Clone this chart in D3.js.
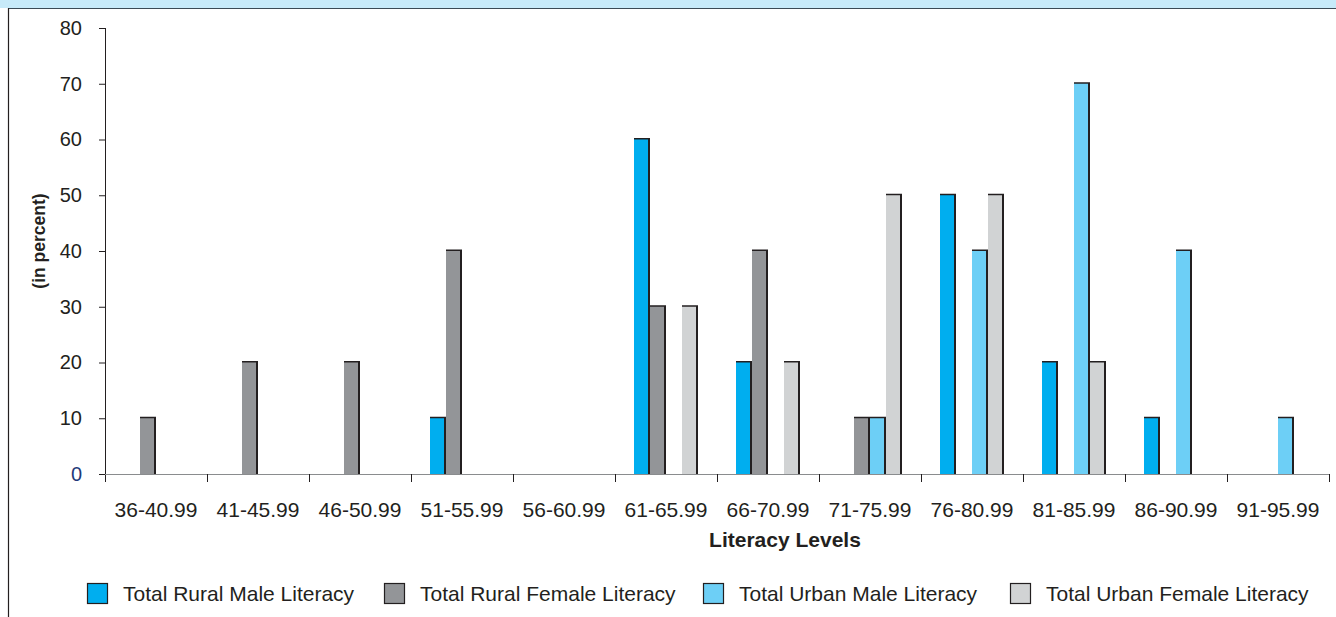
<!DOCTYPE html>
<html>
<head>
<meta charset="utf-8">
<script src="https://cdn.jsdelivr.net/npm/d3@7"></script>
<style>
  body { margin: 0; background: #fff; }
  svg text { font-family: "Liberation Sans", Arial, Helvetica, sans-serif; fill: #231f20; }
</style>
</head>
<body>
<div id="chart"></div>
<script>
// data
const categories = ['36-40.99', '41-45.99', '46-50.99', '51-55.99', '56-60.99', '61-65.99',
    '66-70.99', '71-75.99', '76-80.99', '81-85.99', '86-90.99', '91-95.99'];
const seriesNames = ['Total Rural Male Literacy', 'Total Rural Female Literacy',
    'Total Urban Male Literacy', 'Total Urban Female Literacy'];
const ruralMale   = [0, 0, 0, 10, 0, 60, 20, 0, 50, 20, 10, 0];
const ruralFemale = [10, 20, 20, 40, 0, 30, 40, 10, 0, 0, 0, 0];
const urbanMale   = [0, 0, 0, 0, 0, 0, 0, 10, 40, 70, 40, 10];
const urbanFemale = [0, 0, 0, 0, 0, 30, 20, 50, 50, 20, 0, 0];
const yTicks = [0, 10, 20, 30, 40, 50, 60, 70, 80];

const seriesValues = [ruralMale, ruralFemale, urbanMale, urbanFemale];
const colors = ['#00aeef', '#939598', '#6dcff6', '#d1d3d4'];

const width = 1336, height = 617;
const plot = { left: 105, right: 1329, top: 28, bottom: 474 };

const svg = d3.select('#chart').append('svg')
    .attr('width', width)
    .attr('height', height);

// frame: top band + left border
svg.append('rect').attr('x', 0).attr('y', 0).attr('width', width).attr('height', 8)
    .attr('fill', '#c7eaf9');
svg.append('line').attr('x1', 8).attr('x2', width).attr('y1', 8.5).attr('y2', 8.5)
    .attr('stroke', '#3b4a55').attr('stroke-width', 1.2);
svg.append('line').attr('x1', 8.5).attr('x2', 8.5).attr('y1', 8).attr('y2', height)
    .attr('stroke', '#231f20').attr('stroke-width', 1.2);

// scales
const x = d3.scaleBand().domain(categories).range([plot.left, plot.right]);
const inner = d3.scaleBand().domain(d3.range(seriesNames.length)).range([0, 64]);
const y = d3.scaleLinear().domain([0, 80]).range([plot.bottom, plot.top]);
const groupOffset = (x.bandwidth() - 64) / 2;

// y axis
const yAxis = svg.append('g')
    .attr('transform', `translate(${plot.left},0)`)
    .call(d3.axisLeft(y).tickValues(yTicks).tickSize(6).tickPadding(17));
yAxis.select('.domain').attr('d', `M0.5,${plot.top}V${plot.bottom + 8}`)
    .attr('stroke', '#231f20');
yAxis.selectAll('.tick line').attr('stroke', '#231f20');
yAxis.selectAll('.tick text')
    .style('font-size', '20px')
    .style('fill', d => d === 0 ? '#1f3a7a' : '#231f20');

// x axis (boundary ticks)
const xAxisG = svg.append('g');
xAxisG.append('line')
    .attr('x1', plot.left).attr('x2', plot.right)
    .attr('y1', plot.bottom + 0.5).attr('y2', plot.bottom + 0.5)
    .attr('stroke', '#8a8c8e').attr('stroke-width', 1.2);
xAxisG.selectAll('.xtick')
    .data(categories)
    .enter()
    .append('line')
    .attr('x1', d => x(d) + x.bandwidth() + 0.5)
    .attr('x2', d => x(d) + x.bandwidth() + 0.5)
    .attr('y1', plot.bottom)
    .attr('y2', plot.bottom + 8)
    .attr('stroke', '#231f20');
xAxisG.selectAll('.xlabel')
    .data(categories)
    .enter()
    .append('text')
    .attr('x', d => x(d) + x.bandwidth() / 2)
    .attr('y', 517)
    .attr('text-anchor', 'middle')
    .style('font-size', '21px')
    .text(d => d);

// bars
const barData = [];
seriesValues.forEach((vals, s) => {
    vals.forEach((v, i) => {
        if (v > 0) barData.push({ cat: categories[i], s: s, v: v });
    });
});
const bw = inner.bandwidth();
const bars = svg.append('g').selectAll('g')
    .data(barData)
    .enter()
    .append('g');
// dark edge (top + right)
bars.append('rect')
    .attr('x', d => x(d.cat) + groupOffset + inner(d.s))
    .attr('y', d => y(d.v) - 1.5)
    .attr('width', bw)
    .attr('height', d => plot.bottom - y(d.v) + 1.5)
    .attr('fill', '#231f20');
bars.append('rect')
    .attr('x', d => x(d.cat) + groupOffset + inner(d.s))
    .attr('y', d => y(d.v))
    .attr('width', bw - 2)
    .attr('height', d => plot.bottom - y(d.v))
    .attr('fill', d => colors[d.s]);

// axis titles
svg.append('text')
    .attr('transform', 'translate(45,241) rotate(-90)')
    .attr('text-anchor', 'middle')
    .style('font-size', '17.5px')
    .style('font-weight', 'bold')
    .text('(in percent)');
svg.append('text')
    .attr('x', 785)
    .attr('y', 547)
    .attr('text-anchor', 'middle')
    .style('font-size', '21px')
    .style('font-weight', 'bold')
    .text('Literacy Levels');

// legend
const legendX = [87, 384, 703, 1010];
const legend = svg.append('g').selectAll('g')
    .data(seriesNames)
    .enter()
    .append('g')
    .attr('transform', (d, i) => `translate(${legendX[i]},583)`);
legend.append('rect')
    .attr('x', 0.5).attr('y', 0.5)
    .attr('width', 20).attr('height', 20)
    .attr('fill', (d, i) => colors[i])
    .attr('stroke', '#231f20')
    .attr('stroke-width', 1.2);
legend.append('text')
    .attr('x', 36)
    .attr('y', 18)
    .style('font-size', '21px')
    .text(d => d);
</script>
</body>
</html>
